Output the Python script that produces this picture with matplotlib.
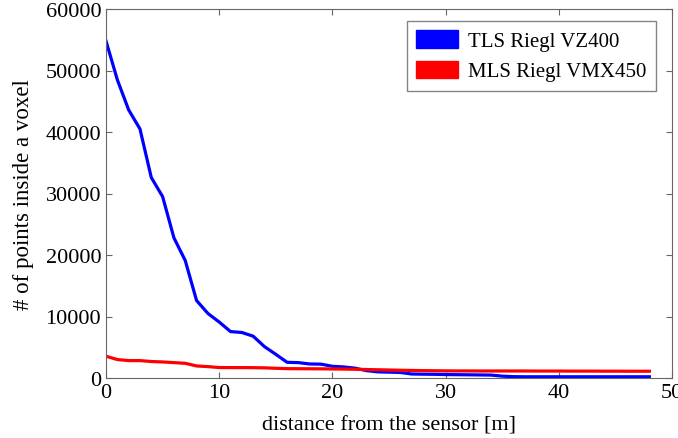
import matplotlib
matplotlib.use("Agg")
import matplotlib.pyplot as plt
from matplotlib.patches import Patch

plt.rcParams['font.family'] = ['Liberation Serif', 'DejaVu Serif']

distance = list(range(0, 49))

tls_points = [54800, 48500, 43600, 40500, 32600, 29500, 22800, 19100, 12600, 10500,
              9100, 7550, 7400, 6800, 5100, 3850, 2550, 2500, 2280, 2250,
              1900, 1800, 1600, 1200, 1000, 950, 900, 650, 620, 600,
              560, 540, 520, 500, 480, 300, 220, 200, 200, 200,
              200, 200, 200, 200, 200, 200, 200, 200, 200]

mls_points = [3540, 3000, 2830, 2830, 2680, 2610, 2500, 2390, 1960, 1850,
              1700, 1690, 1690, 1680, 1650, 1580, 1520, 1510, 1500, 1490,
              1470, 1450, 1420, 1380, 1340, 1300, 1260, 1230, 1200, 1180,
              1160, 1150, 1150, 1140, 1140, 1140, 1140, 1140, 1130, 1130,
              1130, 1120, 1120, 1120, 1110, 1110, 1100, 1100, 1100]

labels = ['TLS Riegl VZ400', 'MLS Riegl VMX450']
colors = ['#0000ff', '#ff0000']

fig = plt.figure(figsize=(6.78, 4.39), dpi=100)
ax = fig.add_axes([106 / 678, 60 / 439, 566 / 678, 369 / 439])

ax.plot(distance, tls_points, color=colors[0], lw=2.3)
ax.plot(distance, mls_points, color=colors[1], lw=2.3)

ax.set_xlim(0, 50)
ax.set_ylim(0, 60000)
ax.set_xticks([0, 10, 20, 30, 40, 50])
ax.set_yticks([0, 10000, 20000, 30000, 40000, 50000, 60000])
ax.tick_params(direction='in', top=True, right=True, colors='#666666',
               labelcolor='black', labelsize=16, length=4)
for s in ax.spines.values():
    s.set_color('#666666')

ax.set_xlabel('distance from the sensor [m]', fontsize=16, labelpad=10)
ax.set_ylabel('# of points inside a voxel', fontsize=16.5, labelpad=8)

handles = [Patch(facecolor=c, edgecolor=c) for c in colors]
leg = ax.legend(handles, labels, loc='upper right', fontsize=15, fancybox=False,
                handlelength=2.0, handleheight=0.9, handletextpad=0.5,
                borderpad=0.45, labelspacing=0.45, borderaxespad=0,
                bbox_to_anchor=(656 / 678, 1 - 22 / 439),
                bbox_transform=fig.transFigure)
leg.get_frame().set_edgecolor('#666666')
leg.get_frame().set_linewidth(1.0)

fig.savefig('out.png', dpi=100)
